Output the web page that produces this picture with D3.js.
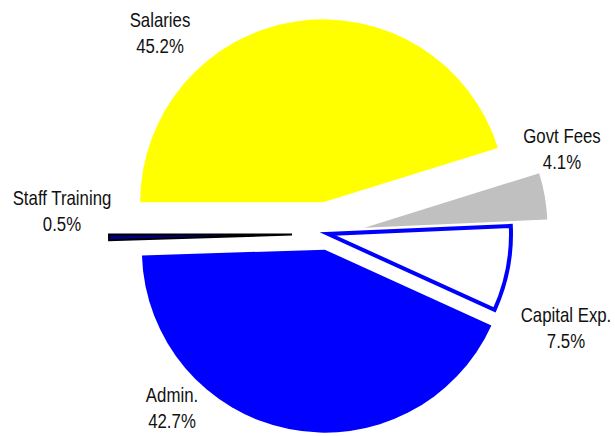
<!DOCTYPE html>
<html>
<head>
<meta charset="utf-8">
<script src="https://cdn.jsdelivr.net/npm/d3@7"></script>
<style>
  html, body { margin: 0; padding: 0; background: #ffffff; }
  svg { display: block; }
  text { font-family: "Liberation Sans", Arial, sans-serif; fill: #111; }
</style>
</head>
<body>
<svg id="chart" width="615" height="436"></svg>
<script>
// ---- data ----
const categories = ["Salaries", "Govt Fees", "Capital Exp.", "Admin.", "Staff Training"];
const values = [45.2, 4.1, 7.5, 42.7, 0.5];
const pctLabels = ["45.2%", "4.1%", "7.5%", "42.7%", "0.5%"];

// ---- styles / layout ----
const fills = ["#FFFF00", "#C0C0C0", "#FFFFFF", "#0000FF", "#000080"];
const strokes = ["none", "none", "#0000FF", "none", "#000000"];
const strokeWidths = [0, 0, 4, 0, 2];
const explode = [32, 37, 0, 16, 36];
const labelPos = [[160, 27], [562, 143], [566, 322], [172, 402], [62, 205]];

const W = 615, H = 436;
const cx = 328, cy = 234, R = 183;
const fontSize = 20.5, lineGap = 26.5, narrow = 0.82;

const svg = d3.select("#chart");
const data = categories.map((c, i) => ({ name: c, value: values[i], i }));

const pie = d3.pie()
  .sort(null)
  .value(d => d.value)
  .startAngle(-Math.PI / 2)
  .endAngle(3 * Math.PI / 2);

const arc = d3.arc().innerRadius(0).outerRadius(R);
const arcs = pie(data);

const g = svg.append("g").attr("transform", `translate(${cx},${cy})`);

g.selectAll("path.slice")
  .data(arcs)
  .join("path")
  .attr("class", "slice")
  .attr("d", arc)
  .attr("transform", d => {
    const mid = (d.startAngle + d.endAngle) / 2;
    const e = explode[d.data.i];
    return `translate(${e * Math.sin(mid)},${-e * Math.cos(mid)})`;
  })
  .attr("fill", d => fills[d.data.i])
  .attr("stroke", d => strokes[d.data.i])
  .attr("stroke-width", d => strokeWidths[d.data.i])
  .attr("stroke-linejoin", "miter")
  .attr("stroke-miterlimit", 10);

const lg = svg.selectAll("g.lbl")
  .data(data)
  .join("g")
  .attr("class", "lbl")
  .attr("transform", d => `translate(${labelPos[d.i][0]},${labelPos[d.i][1]}) scale(${narrow},1)`);

lg.append("text")
  .attr("text-anchor", "middle")
  .attr("font-size", fontSize)
  .attr("y", 0)
  .text(d => d.name);
lg.append("text")
  .attr("text-anchor", "middle")
  .attr("font-size", fontSize)
  .attr("y", lineGap)
  .text(d => pctLabels[d.i]);
</script>
</body>
</html>
